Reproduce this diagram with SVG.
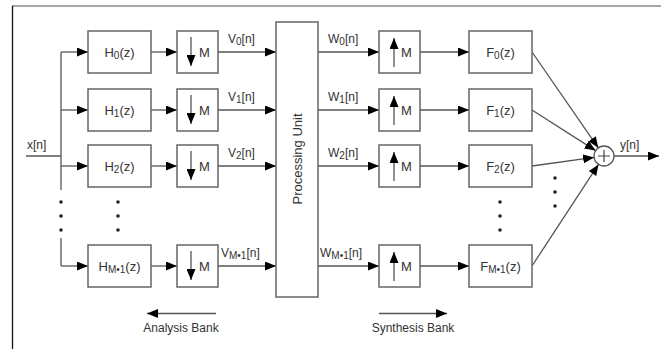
<svg xmlns="http://www.w3.org/2000/svg" width="661" height="349" viewBox="0 0 661 349">
<defs>
<marker id="ah" markerUnits="userSpaceOnUse" markerWidth="11" markerHeight="9" refX="11" refY="4.5" orient="auto">
<path d="M0,0 L11,4.5 L0,9 z" fill="#000"/>
</marker>
<style>
.box{fill:#fff;stroke:#666;stroke-width:1.5}
.ln{fill:none;stroke:#555;stroke-width:1.3}
.ar{fill:none;stroke:#555;stroke-width:1.3;marker-end:url(#ah)}
.t{font-family:"Liberation Sans",Arial,sans-serif;font-size:13px;fill:#333}
.s{font-size:12px}
.sub{font-size:10px}
.dot{fill:#222}
</style>
</defs>
<rect width="661" height="349" fill="#fff"/>
<g id="frame">
<line x1="12" y1="6" x2="661" y2="6" stroke="#888" stroke-width="1.3"/>
<line x1="12.5" y1="6" x2="12.5" y2="349" stroke="#111" stroke-width="1.3"/>
</g>
<g id="connectors">
<line class="ln" x1="26" y1="156" x2="61" y2="156"/>
<polyline class="ln" points="61,52 61,190"/>
<polyline class="ln" points="61,238 61,266"/>
<line class="ar" x1="61" y1="52" x2="88" y2="52"/>
<line class="ar" x1="61" y1="110" x2="88" y2="110"/>
<line class="ar" x1="61" y1="166" x2="88" y2="166"/>
<line class="ar" x1="61" y1="266" x2="88" y2="266"/>
<line class="ar" x1="151" y1="52" x2="177" y2="52"/>
<line class="ar" x1="151" y1="110" x2="177" y2="110"/>
<line class="ar" x1="151" y1="166" x2="177" y2="166"/>
<line class="ar" x1="151" y1="266" x2="177" y2="266"/>
<line class="ar" x1="218" y1="52" x2="276" y2="52"/>
<line class="ar" x1="218" y1="110" x2="276" y2="110"/>
<line class="ar" x1="218" y1="166" x2="276" y2="166"/>
<line class="ar" x1="218" y1="266" x2="276" y2="266"/>
<line class="ar" x1="318" y1="52" x2="379" y2="52"/>
<line class="ar" x1="318" y1="110" x2="379" y2="110"/>
<line class="ar" x1="318" y1="166" x2="379" y2="166"/>
<line class="ar" x1="318" y1="266" x2="379" y2="266"/>
<line class="ar" x1="420" y1="52" x2="469" y2="52"/>
<line class="ar" x1="420" y1="110" x2="469" y2="110"/>
<line class="ar" x1="420" y1="166" x2="469" y2="166"/>
<line class="ar" x1="420" y1="266" x2="469" y2="266"/>
<line class="ar" x1="532" y1="52" x2="598.3" y2="147.8"/>
<line class="ar" x1="532" y1="110" x2="595.6" y2="150.6"/>
<line class="ar" x1="532" y1="166" x2="594.1" y2="157.4"/>
<line class="ar" x1="532" y1="266" x2="598.5" y2="164.4"/>
<line class="ar" x1="614" y1="156" x2="659" y2="156"/>
<line class="ar" x1="216" y1="313.5" x2="147" y2="313.5"/>
<line class="ar" x1="379" y1="313.5" x2="447" y2="313.5"/>
</g>
<g id="dots">
<circle class="dot" cx="61" cy="202" r="1.8"/><circle class="dot" cx="61" cy="216" r="1.8"/><circle class="dot" cx="61" cy="230" r="1.8"/>
<circle class="dot" cx="118" cy="202" r="1.8"/><circle class="dot" cx="118" cy="216" r="1.8"/><circle class="dot" cx="118" cy="230" r="1.8"/>
<circle class="dot" cx="500" cy="202" r="1.8"/><circle class="dot" cx="500" cy="216" r="1.8"/><circle class="dot" cx="500" cy="230" r="1.8"/>
<circle class="dot" cx="555" cy="178" r="1.8"/><circle class="dot" cx="555" cy="192" r="1.8"/><circle class="dot" cx="555" cy="206" r="1.8"/>
</g>
<g id="H0"><rect class="box" x="88" y="31" width="63" height="42"/><text class="t" x="119.5" y="57" text-anchor="middle">H<tspan class="sub" dy="2">0</tspan><tspan dy="-2">(z)</tspan></text></g>
<g id="H1"><rect class="box" x="88" y="89" width="63" height="42"/><text class="t" x="119.5" y="115" text-anchor="middle">H<tspan class="sub" dy="2">1</tspan><tspan dy="-2">(z)</tspan></text></g>
<g id="H2"><rect class="box" x="88" y="145" width="63" height="42"/><text class="t" x="119.5" y="171" text-anchor="middle">H<tspan class="sub" dy="2">2</tspan><tspan dy="-2">(z)</tspan></text></g>
<g id="HM"><rect class="box" x="88" y="245" width="63" height="42"/><text class="t" x="119.5" y="271" text-anchor="middle">H<tspan class="sub" dy="2">M•1</tspan><tspan dy="-2">(z)</tspan></text></g>
<g id="D0"><rect class="box" x="177" y="31" width="41" height="42"/><line class="ar" x1="191" y1="37" x2="191" y2="66"/><text class="t" x="199" y="57">M</text></g>
<g id="D1"><rect class="box" x="177" y="89" width="41" height="42"/><line class="ar" x1="191" y1="95" x2="191" y2="124"/><text class="t" x="199" y="115">M</text></g>
<g id="D2"><rect class="box" x="177" y="145" width="41" height="42"/><line class="ar" x1="191" y1="151" x2="191" y2="180"/><text class="t" x="199" y="171">M</text></g>
<g id="DM"><rect class="box" x="177" y="245" width="41" height="42"/><line class="ar" x1="191" y1="251" x2="191" y2="280"/><text class="t" x="199" y="271">M</text></g>
<g id="PU"><rect class="box" x="276" y="22" width="42" height="275"/><text class="t" transform="translate(301.5,159) rotate(-90)" text-anchor="middle">Processing Unit</text></g>
<g id="U0"><rect class="box" x="379" y="31" width="41" height="42"/><line class="ar" x1="394" y1="67" x2="394" y2="38"/><text class="t" x="401" y="57">M</text></g>
<g id="U1"><rect class="box" x="379" y="89" width="41" height="42"/><line class="ar" x1="394" y1="125" x2="394" y2="96"/><text class="t" x="401" y="115">M</text></g>
<g id="U2"><rect class="box" x="379" y="145" width="41" height="42"/><line class="ar" x1="394" y1="181" x2="394" y2="152"/><text class="t" x="401" y="171">M</text></g>
<g id="UM"><rect class="box" x="379" y="245" width="41" height="42"/><line class="ar" x1="394" y1="281" x2="394" y2="252"/><text class="t" x="401" y="271">M</text></g>
<g id="F0"><rect class="box" x="469" y="31" width="63" height="42"/><text class="t" x="500.5" y="57" text-anchor="middle">F<tspan class="sub" dy="2">0</tspan><tspan dy="-2">(z)</tspan></text></g>
<g id="F1"><rect class="box" x="469" y="89" width="63" height="42"/><text class="t" x="500.5" y="115" text-anchor="middle">F<tspan class="sub" dy="2">1</tspan><tspan dy="-2">(z)</tspan></text></g>
<g id="F2"><rect class="box" x="469" y="145" width="63" height="42"/><text class="t" x="500.5" y="171" text-anchor="middle">F<tspan class="sub" dy="2">2</tspan><tspan dy="-2">(z)</tspan></text></g>
<g id="FM"><rect class="box" x="469" y="245" width="63" height="42"/><text class="t" x="500.5" y="271" text-anchor="middle">F<tspan class="sub" dy="2">M•1</tspan><tspan dy="-2">(z)</tspan></text></g>
<g id="sum"><circle cx="604" cy="156" r="10" fill="#fff" stroke="#555" stroke-width="1.3"/><path d="M598,156 H610 M604,150 V162" stroke="#444" stroke-width="1.2"/></g>
<g id="labels">
<text class="t s" x="27" y="149">x[n]</text>
<text class="t s" x="228" y="43">V<tspan class="sub" dy="2">0</tspan><tspan dy="-2">[n]</tspan></text>
<text class="t s" x="228" y="101">V<tspan class="sub" dy="2">1</tspan><tspan dy="-2">[n]</tspan></text>
<text class="t s" x="228" y="157">V<tspan class="sub" dy="2">2</tspan><tspan dy="-2">[n]</tspan></text>
<text class="t s" x="221" y="257">V<tspan class="sub" dy="2">M•1</tspan><tspan dy="-2">[n]</tspan></text>
<text class="t s" x="328" y="43">W<tspan class="sub" dy="2">0</tspan><tspan dy="-2">[n]</tspan></text>
<text class="t s" x="328" y="101">W<tspan class="sub" dy="2">1</tspan><tspan dy="-2">[n]</tspan></text>
<text class="t s" x="328" y="157">W<tspan class="sub" dy="2">2</tspan><tspan dy="-2">[n]</tspan></text>
<text class="t s" x="320" y="257">W<tspan class="sub" dy="2">M•1</tspan><tspan dy="-2">[n]</tspan></text>
<text class="t s" x="620" y="149">y[n]</text>
<text class="t s" x="181" y="332" text-anchor="middle">Analysis Bank</text>
<text class="t s" x="413" y="332" text-anchor="middle">Synthesis Bank</text>
</g>
</svg>
